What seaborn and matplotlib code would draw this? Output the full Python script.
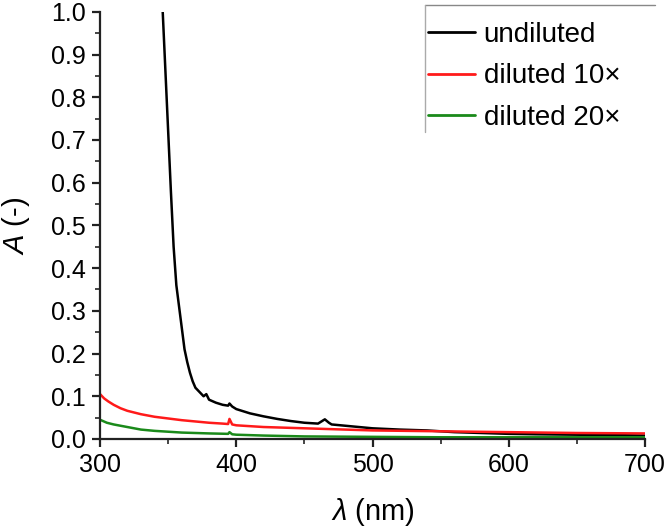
import numpy as np
import pandas as pd
import seaborn as sns
import matplotlib.pyplot as plt
from matplotlib.lines import Line2D

# absorbance spectra
wl_undiluted = [346, 348, 350, 352, 354, 356, 358, 360, 362, 364, 366, 368, 370, 373, 376, 378,
                380, 385, 390, 394, 395, 397, 400, 410, 420, 430, 440, 450, 460, 465, 468, 470,
                480, 490, 500, 520, 540, 560, 580, 600, 620, 650, 680, 700]
a_undiluted = [1.0, 0.86, 0.72, 0.58, 0.45, 0.36, 0.31, 0.26, 0.21, 0.18, 0.155, 0.135, 0.12, 0.11,
               0.10, 0.105, 0.092, 0.085, 0.080, 0.078, 0.083, 0.076, 0.070, 0.060, 0.053, 0.047,
               0.042, 0.038, 0.036, 0.046, 0.038, 0.034, 0.031, 0.028, 0.025, 0.022, 0.020, 0.016,
               0.014, 0.012, 0.011, 0.010, 0.009, 0.008]

wl_10x = [300, 303, 306, 310, 315, 320, 330, 340, 350, 360, 370, 380, 390, 394, 395, 397, 400,
          420, 440, 460, 480, 500, 550, 600, 650, 700]
a_10x = [0.105, 0.095, 0.088, 0.080, 0.072, 0.066, 0.058, 0.052, 0.048, 0.044, 0.041, 0.038,
         0.036, 0.035, 0.047, 0.034, 0.032, 0.028, 0.026, 0.024, 0.022, 0.020, 0.018, 0.016,
         0.014, 0.013]

wl_20x = [300, 305, 310, 320, 330, 340, 350, 360, 380, 394, 395, 397, 400, 420, 450, 500, 550,
          600, 700]
a_20x = [0.045, 0.038, 0.034, 0.028, 0.022, 0.019, 0.017, 0.015, 0.013, 0.012, 0.016, 0.011,
         0.010, 0.008, 0.006, 0.005, 0.004, 0.004, 0.004]

labels = ['undiluted', 'diluted 10×', 'diluted 20×']
colors = ['black', '#ff1a1a', '#1a8a1a']

df = pd.concat([
    pd.DataFrame({'wl': wl_undiluted, 'A': a_undiluted, 'sample': labels[0]}),
    pd.DataFrame({'wl': wl_10x, 'A': a_10x, 'sample': labels[1]}),
    pd.DataFrame({'wl': wl_20x, 'A': a_20x, 'sample': labels[2]}),
])

sns.set_style('ticks')
plt.rcParams['font.family'] = ['Liberation Sans', 'DejaVu Sans']
plt.rcParams['mathtext.fontset'] = 'custom'
plt.rcParams['mathtext.it'] = 'Liberation Sans:italic'
plt.rcParams['mathtext.rm'] = 'Liberation Sans'
plt.rcParams['text.color'] = 'black'
plt.rcParams['axes.labelcolor'] = 'black'

fig = plt.figure(figsize=(6.67, 5.28), dpi=100)
ax = fig.add_axes([0.15, 0.1686, 0.817, 0.809])

sns.lineplot(data=df, x='wl', y='A', hue='sample', palette=colors, linewidth=1.8,
             estimator=None, sort=False, ax=ax, legend=False)

ax.set_xlim(300, 700)
ax.set_ylim(0, 1.0)
ax.set_xticks([300, 400, 500, 600, 700])
ax.set_xticks(np.arange(350, 700, 100), minor=True)
ax.set_yticks(np.arange(0, 1.01, 0.1))
ax.set_yticks(np.arange(0.05, 1.0, 0.1), minor=True)
ax.yaxis.set_major_formatter(plt.FormatStrFormatter('%.1f'))
ax.tick_params(which='major', direction='out', length=6, width=1.6, labelsize=18,
               colors='#222222', labelcolor='black', pad=4)
ax.tick_params(which='minor', direction='out', length=3.5, width=1.4, colors='#444444')
for s in ['top', 'right']:
    ax.spines[s].set_visible(False)
for s in ['left', 'bottom']:
    ax.spines[s].set_linewidth(1.6)
    ax.spines[s].set_color('#222222')

ax.set_xlabel(r'$\mathit{\lambda}$ (nm)', fontsize=21, labelpad=14)
ax.set_ylabel(r'$\mathit{A}$ (-)', fontsize=21, labelpad=14)

handles = [Line2D([], [], color=c, lw=2.0) for c in colors]
fig.legend(handles, labels, loc='upper left', bbox_to_anchor=(428 / 667, 1 - 22 / 528),
           frameon=False, fontsize=20, handlelength=1.7, handletextpad=0.3,
           labelspacing=0.55, borderpad=0, borderaxespad=0, labelcolor='black')
fig.add_artist(Line2D([425 / 667, 655 / 667], [1 - 5 / 528, 1 - 5 / 528], color='#888888', lw=1))
fig.add_artist(Line2D([425 / 667, 425 / 667], [1 - 5 / 528, 1 - 132 / 528], color='#aaaaaa', lw=1))

fig.savefig('out.png', dpi=100)
